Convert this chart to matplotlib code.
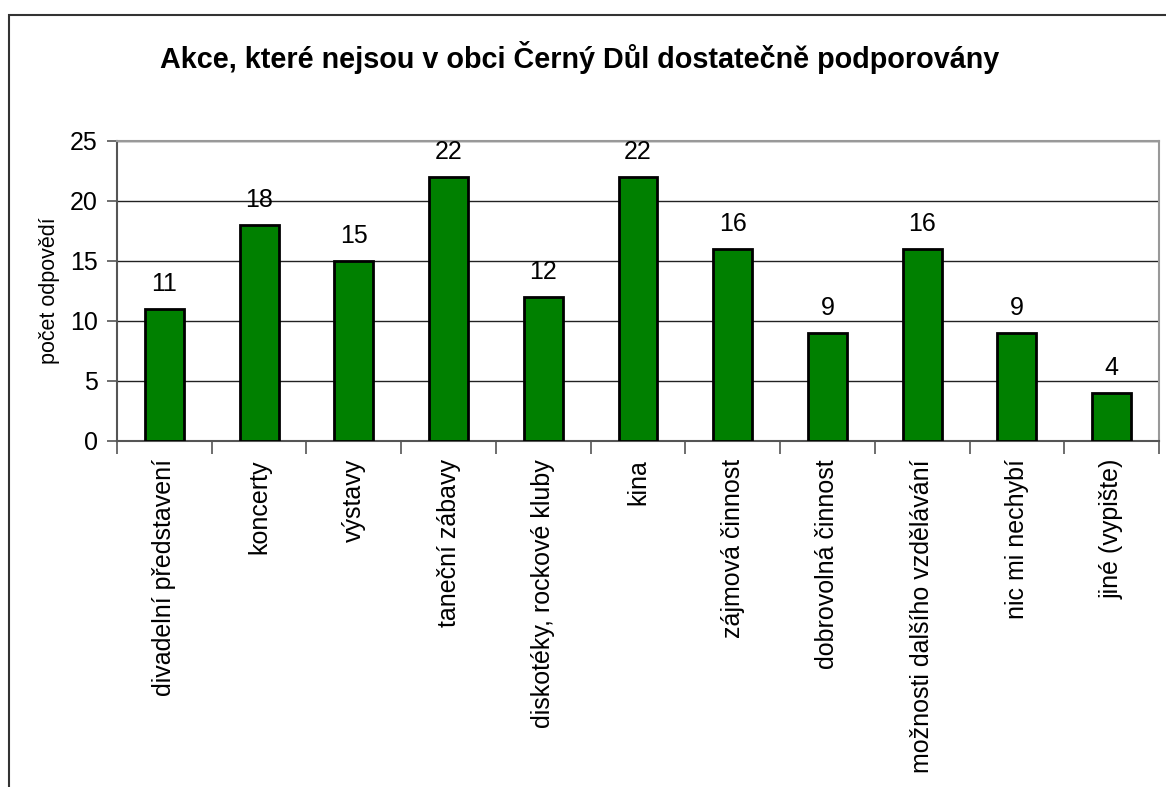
import numpy as np
import matplotlib.pyplot as plt
from matplotlib.patches import Rectangle

plt.rcParams['font.family'] = ['Liberation Sans', 'DejaVu Sans']

kategorie = ['divadelní představení', 'koncerty', 'výstavy', 'taneční zábavy',
             'diskotéky, rockové kluby', 'kina', 'zájmová činnost',
             'dobrovolná činnost', 'možnosti dalšího vzdělávání',
             'nic mi nechybí', 'jiné (vypište)']
pocty = [11, 18, 15, 22, 12, 22, 16, 9, 16, 9, 4]

W, H = 1166, 787
fig = plt.figure(figsize=(W / 100, H / 100), dpi=100)

# ramecek grafu (presahuje vpravo a dole)
fig.patches.append(Rectangle((9 / W, -0.05), 1.2, 1 - 15 / H + 0.05,
                             transform=fig.transFigure, fill=False,
                             edgecolor='#333333', linewidth=1.5))

ax = fig.add_axes([117 / W, 1 - 441 / H, (1159 - 117) / W, (441 - 141) / H])

x = np.arange(len(kategorie))
bars = ax.bar(x, pocty, width=0.41, color='#008000', edgecolor='black',
              linewidth=2, zorder=3)
for b, v in zip(bars, pocty):
    ax.annotate(str(v), (b.get_x() + b.get_width() / 2, v), xytext=(0, 9),
                textcoords='offset points', ha='center', va='bottom',
                fontsize=18)

ax.set_xlim(-0.5, len(kategorie) - 0.5)
ax.set_ylim(0, 25)
ax.set_yticks(range(0, 26, 5))
ax.yaxis.grid(True, color='#222222', linewidth=1, zorder=0)
ax.tick_params(axis='y', labelsize=18, length=7, color='#555555', width=1.2, pad=7)

ax.set_xticks(x)
ax.set_xticklabels(kategorie, rotation=90, fontsize=18)
ax.tick_params(axis='x', length=0, pad=13)
ax.set_xticks(np.arange(-0.5, len(kategorie)), minor=True)
ax.tick_params(axis='x', which='minor', length=9, color='#555555', width=1.2)

for s in ['left', 'bottom']:
    ax.spines[s].set_color('#555555')
    ax.spines[s].set_linewidth(1.5)
for s in ['top', 'right']:
    ax.spines[s].set_color('#999999')
    ax.spines[s].set_linewidth(1.5)

ax.set_ylabel('počet odpovědí', fontsize=15.5)
ax.yaxis.set_label_coords((60 - 117) / 1042, 0.5)

fig.text(580 / W, 1 - 58 / H, 'Akce, které nejsou v obci Černý Důl dostatečně podporovány',
         ha='center', va='center', fontsize=20.7, fontweight='bold')

fig.savefig('out.png', dpi=100)
